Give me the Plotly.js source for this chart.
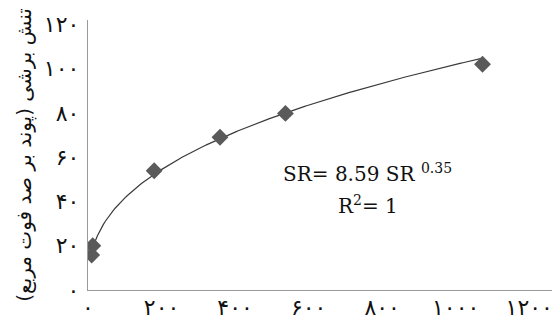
<!DOCTYPE html>
<html>
<head>
<meta charset="utf-8">
<script src="https://cdn.plot.ly/plotly-3.0.1.min.js"></script>
<style>html,body{margin:0;padding:0;background:#fff;}#chart{width:553px;height:324px;}</style>
</head>
<body>
<div id="chart"></div>
<script>
// data
var xValues = [10, 13, 180, 359, 537, 1073];
var yValues = [15.8, 20, 53.9, 69, 79.8, 102];

var xTickVals = [0, 200, 400, 600, 800, 1000, 1200];
var xTickText = ['۰', '۲۰۰', '۴۰۰', '۶۰۰', '۸۰۰', '۱۰۰۰', '۱۲۰۰'];
var yTickVals = [0, 20, 40, 60, 80, 100, 120];
var yTickText = ['۰', '۲۰', '۴۰', '۶۰', '۸۰', '۱۰۰', '۱۲۰'];

var yTitle = 'تنش برشی (پوند بر صد فوت مربع)';
var eqLine1 = 'SR= 8.59 SR <sup>0.35</sup>';
var eqLine2 = 'R<sup>2</sup>= 1';

// power trendline fitted to the data (log-log least squares)
var n = xValues.length, sx = 0, sy = 0, sxx = 0, sxy = 0;
for (var i = 0; i < n; i++) {
  var lx = Math.log(xValues[i]), ly = Math.log(yValues[i]);
  sx += lx; sy += ly; sxx += lx * lx; sxy += lx * ly;
}
var b = (n * sxy - sx * sy) / (n * sxx - sx * sx);
var a = Math.exp((sy - b * sx) / n);
var xMin = Math.min.apply(null, xValues), xMax = Math.max.apply(null, xValues);
var tx = [], ty = [];
for (var k = 0; k <= 200; k++) {
  var xv = xMin + (xMax - xMin) * k / 200;
  tx.push(xv); ty.push(a * Math.pow(xv, b));
}

var arabicFont = 'DejaVu Sans, sans-serif';
var serifFont = 'DejaVu Serif, serif';

var traces = [
  {x: tx, y: ty, type: 'scatter', mode: 'lines', line: {color: '#3a3a3a', width: 1.2}, hoverinfo: 'skip'},
  {x: xValues, y: yValues, type: 'scatter', mode: 'markers',
   marker: {symbol: 'diamond', size: 13, color: '#5a5a5a', line: {width: 0}}}
];

var layout = {
  width: 553, height: 324,
  margin: {l: 88, r: 1, t: 20, b: 34},
  paper_bgcolor: '#fff', plot_bgcolor: '#fff',
  showlegend: false,
  xaxis: {
    range: [0, 1262], showgrid: false, zeroline: false,
    showline: true, linecolor: '#9a9a9a', linewidth: 1.3,
    ticks: '', tickvals: xTickVals, ticktext: xTickText,
    tickfont: {family: arabicFont, size: 22, color: '#111'},
    ticklabelstandoff: -3
  },
  yaxis: {
    range: [0, 122], showgrid: false, zeroline: false,
    showline: true, linecolor: '#9a9a9a', linewidth: 1.3,
    ticks: '', tickvals: yTickVals, ticktext: yTickText,
    tickfont: {family: arabicFont, size: 22, color: '#111'},
    ticklabelstandoff: 3,
    title: {text: yTitle, font: {family: arabicFont, size: 20, color: '#111'}, standoff: 6}
  },
  annotations: [
    {xref: 'paper', yref: 'paper', x: 0.603, y: 0.435, xanchor: 'center', yanchor: 'middle',
     text: eqLine1, showarrow: false, font: {family: serifFont, size: 20, color: '#111'}},
    {xref: 'paper', yref: 'paper', x: 0.603, y: 0.315, xanchor: 'center', yanchor: 'middle',
     text: eqLine2, showarrow: false, font: {family: serifFont, size: 20, color: '#111'}}
  ]
};

Plotly.newPlot('chart', traces, layout, {displayModeBar: false, staticPlot: true});
</script>
</body>
</html>
